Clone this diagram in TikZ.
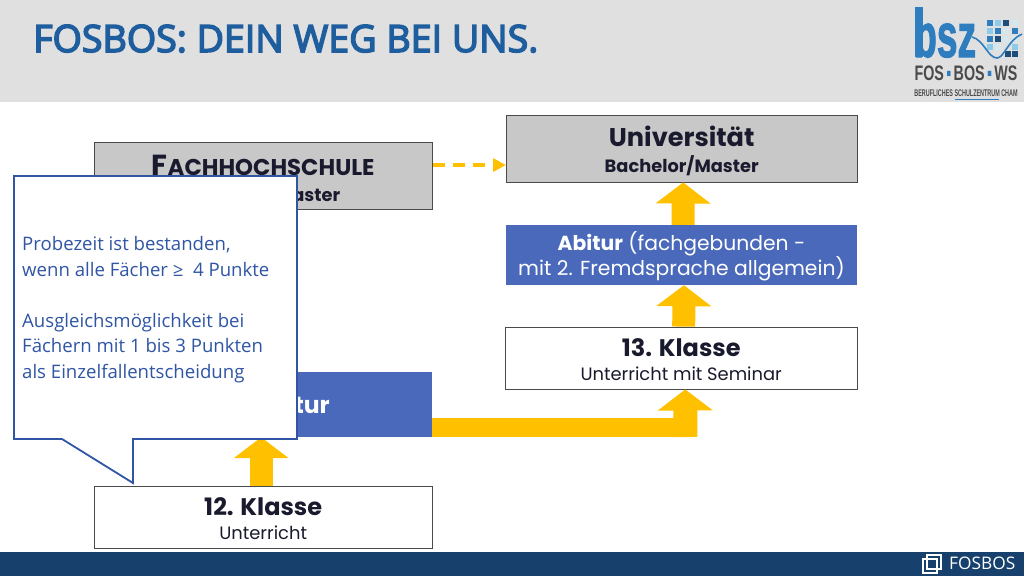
\documentclass[tikz,border=0pt]{standalone}
\usepackage{fontspec}
\setmainfont{Poppins}
\newfontfamily\segoe{Open Sans}
\newfontfamily\segsb[FakeBold=4]{Open Sans}
\newfontfamily\lib{Liberation Sans}
\newfontfamily\libb[FakeBold=2]{Liberation Sans}
\usetikzlibrary{arrows.meta,calc}
\definecolor{hdr}{HTML}{E0E0E0}
\definecolor{ftr}{HTML}{17406D}
\definecolor{ttl}{HTML}{1F5E9E}
\definecolor{gry}{HTML}{C8C8C8}
\definecolor{blu}{HTML}{4A69BA}
\definecolor{ylw}{HTML}{FFC000}
\definecolor{ink}{HTML}{1A1A2E}
\definecolor{edge}{HTML}{4A4A4A}
\definecolor{cal}{HTML}{2F55A4}
\definecolor{lb}{HTML}{2E7DBE}
\definecolor{ld}{HTML}{1D4E79}
\definecolor{ll}{HTML}{8CCBEA}
\definecolor{lp}{HTML}{D5E8EC}
\definecolor{lg}{HTML}{4A4A4A}
\tikzset{
  boxbase/.style={minimum height=#1,inner sep=0pt,align=center,text=ink},
  graybox/.style={boxbase=67,fill=gry,draw=edge,line width=0.9pt,minimum width=338},
  whitebox/.style={boxbase=62,fill=white,draw=edge,line width=0.9pt,minimum width=338},
  bluebox/.style={boxbase=60,fill=blu,minimum width=351,text=white},
  blockarrow/.style={draw=ylw,line width=23pt,-{Triangle[width=54pt,length=21pt]}},
  dasharrow/.style={draw=ylw,line width=4pt,dash pattern=on 12pt off 8pt,-{Triangle[width=13pt,length=13pt]}},
  callout/.style={fill=white,draw=cal,line width=1.8pt,line join=miter},
  logosq/.style={minimum size=6.4pt,inner sep=0pt},
  lead/.style={font=\fontsize{10}{#1}\selectfont},
}
\newcommand{\ttitle}[1]{{\fontsize{24}{24}\selectfont\bfseries\rule{0pt}{22pt}#1}}
\newcommand{\tsub}[1]{{\fontsize{17.9}{18}\selectfont #1}}
\newcommand{\tsubb}[1]{{\fontsize{17.8}{18}\selectfont\bfseries #1}}
\begin{document}
\begin{tikzpicture}[x=1pt,y=-1pt]
\useasboundingbox (0,0) rectangle (1024,576);
\fill[white] (0,0) rectangle (1024,576);
\fill[hdr] (0,0) rectangle (1024,102);
\fill[ftr] (0,552) rectangle (1024,576);
\node[anchor=base west,inner sep=0pt,text=ttl,font=\segsb\fontsize{37.6}{40}\selectfont] (title) at (33,52) {FOSBOS: DEIN WEG BEI UNS.};
% boxes
\node[graybox,lead=26] (fh) at (263.2,175.5) {{\fontsize{29}{29}\selectfont\bfseries\rule{0pt}{29pt}F{\fontsize{22.8}{23}\selectfont ACHHOCHSCHULE}}\\\tsubb{Bachelor/Master}};
\node[graybox,minimum width=350.5,lead=26] (uni) at (681.7,148.5) {{\fontsize{25.6}{26}\selectfont\bfseries\rule{0pt}{26pt}Universität}\\\tsubb{Bachelor/Master}};
\node[bluebox,font=\fontsize{20.3}{25}\selectfont] (abi) at (681.5,255) {\rule{0pt}{22pt}{\bfseries Abitur} (fachgebunden -\\mit 2. Fremdsprache allgemein)};
\node[whitebox,minimum width=351.5,lead=24] (k13) at (681.2,358) {\ttitle{13. Klasse}\\\tsub{Unterricht mit Seminar}};
\node[bluebox,minimum width=338,minimum height=65] (fb) at (263.2,404.5) {\fontsize{23.5}{26}\selectfont\bfseries Fachabitur};
\node[whitebox,lead=24] (k12) at (263.2,517) {\ttitle{12. Klasse}\\\tsub{Unterricht}};
% connectors
\draw[dasharrow] (fh.east |- 0,165) -- (uni.west |- 0,165);
\draw[blockarrow] ([xshift=1.5pt]abi.north) -- ([xshift=1.5pt]uni.south);
\draw[blockarrow] ([xshift=2.5pt]k13.north) -- ([xshift=2.5pt]abi.south);
\draw[blockarrow] ([xshift=-2pt]k12.north) -- ([xshift=-2pt]fb.south);
\draw[draw=ylw,line width=19pt,line join=miter] ([yshift=-23pt]fb.east) -- ++(265,0) coordinate (bend);
\draw[blockarrow,line width=24pt] ($(bend)+(-12,9.5)$) -- ([xshift=4pt]k13.south);
% callout
\draw[callout] (14,176) -- (297,176) -- (297,439) -- (133,439) -- (133,483) -- (62,439) -- (14,439) -- cycle;
\node[anchor=base west,inner sep=0pt,align=left,text=cal,font=\segoe\fontsize{18.6}{25.6}\selectfont] (note) at (22,378.5) {Probezeit ist bestanden,\\wenn alle Fächer ≥\ \ 4 Punkte\\[25.6pt]Ausgleichsmöglichkeit bei\\Fächern mit 1 bis 3 Punkten\\als Einzelfallentscheidung};
% logo
\fill[lb] (915,7) rectangle (923,57);
\node[anchor=base west,inner sep=0pt,text=lb,font=\libb\bfseries\fontsize{62}{62}\selectfont,xscale=.6,transform shape] (bsz) at (914,57) {bsz};
\foreach \c/\x/\y in {lb/987/20,ll/995/20,ld/1003/20,lp/1012/20,
  ll/987/28,lb/995/28,lp/1003/28,lb/1012/28,
  lb/987/36,ld/995/36,lp/1003/36,lp/1012/36,
  ll/987/44,lp/995/44,ll/1012/44,
  ld/1005/51,ld/1012/51}
  \node[logosq,fill=\c] at (\x+3,\y+3) {};
\draw[lb,line width=1.6pt] (972,37) .. controls (984,40) and (988,58) .. (997,58) .. controls (1004,58) and (1008,40) .. (1022,34);
\node[anchor=base,inner sep=0pt,text=lg,font=\lib\bfseries\fontsize{21}{21}\selectfont,xscale=.68,transform shape] (fbw) at (966,80) {FOS\,{\color{lb}▪}\,BOS\,{\color{lb}▪}\,WS};
\node[anchor=base,inner sep=0pt,text=lg,font=\lib\bfseries\fontsize{9.7}{10}\selectfont,xscale=.56,transform shape] (bs) at (966,96.5) {BERUFLICHES SCHULZENTRUM CHAM};
\draw[lb,line width=.8pt] (955,99) -- (999,99);
% footer mark
\draw[white,line width=1.2pt] (923,559) rectangle (937,573);
\draw[white,line width=1.2pt] (927,555) rectangle (941,569);
\node[anchor=base west,inner sep=0pt,text=white,font=\segoe\fontsize{17.3}{18}\selectfont] (fos) at (949,569) {FOSBOS};
\end{tikzpicture}
\end{document}
